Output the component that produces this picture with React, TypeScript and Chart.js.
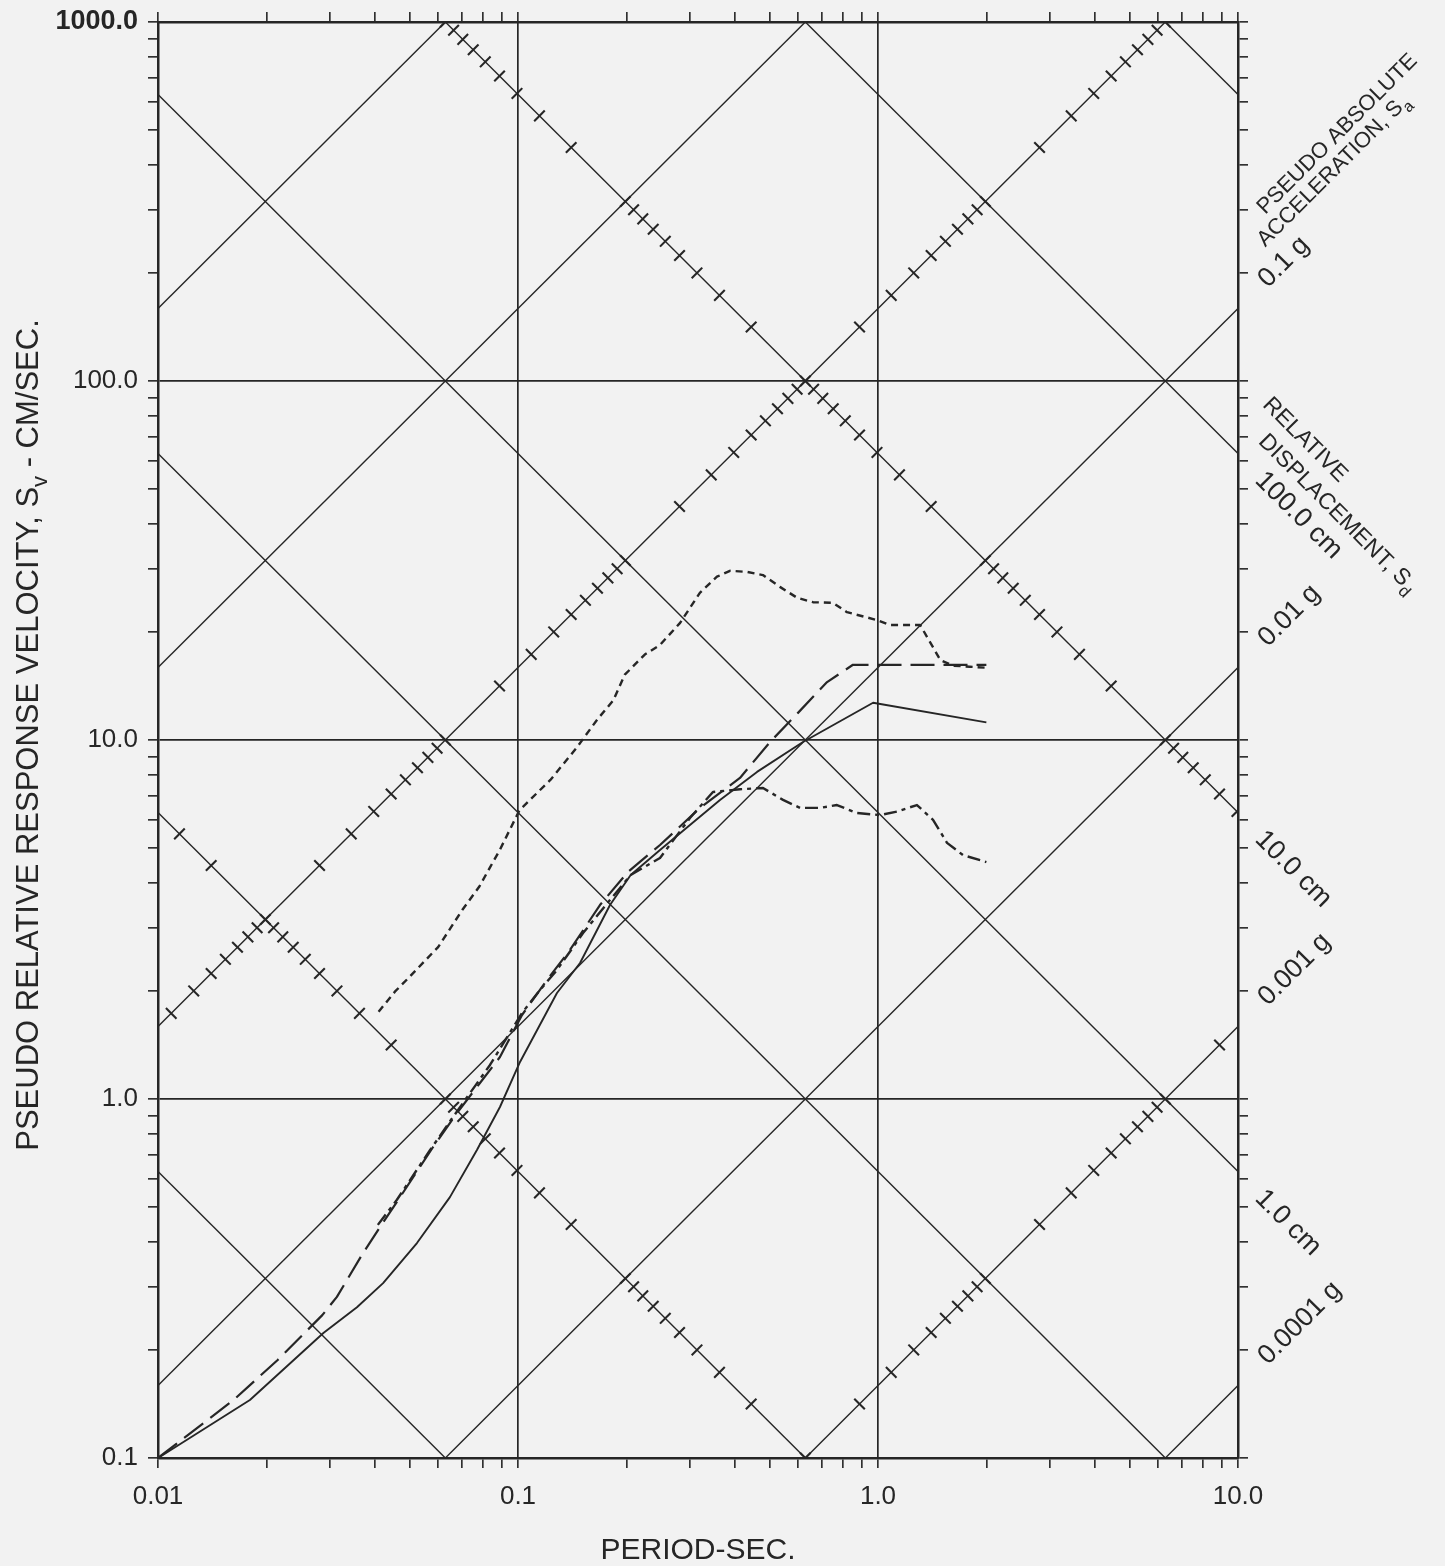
import { useEffect, useRef } from "react";
import { Chart, registerables } from "chart.js";

Chart.register(...registerables);

// Canvas and plot frame
const W = 1445;
const H = 1566;
const PAPER = "#f2f2f2";
const INK = "#262626";
const FONT = '"Liberation Sans", "DejaVu Sans", sans-serif';
const TWO_PI = 2 * Math.PI;

// Axis ranges: period (s) and pseudo relative velocity (cm/s)
const periodMin = 0.01;
const periodMax = 10;
const velocityMin = 0.1;
const velocityMax = 1000;

const periodTickLabels = ["0.01", "0.1", "1.0", "10.0"];
const velocityTickLabels = ["0.1", "1.0", "10.0", "100.0", "1000.0"];

// Tripartite guide lines
const displacementLinesCm = [0.001, 0.01, 0.1, 1, 10, 100, 1000];
const accelerationLinesCmS2 = [0.1, 1, 10, 100, 1000, 10000, 100000];
const graduatedDisplacementLinesCm = [0.01, 10];
const graduatedAccelerationLinesCmS2 = [1, 1000];

// Labels placed beside the guide line ends on the right
const accelerationLineLabels = [
  { sa: 100, text: "0.1 g" },
  { sa: 10, text: "0.01 g" },
  { sa: 1, text: "0.001 g" },
  { sa: 0.1, text: "0.0001 g" },
];
const displacementLineLabels = [
  { sd: 100, text: "100.0 cm" },
  { sd: 10, text: "10.0 cm" },
  { sd: 1, text: "1.0 cm" },
];

// Spectrum curves (period s, velocity cm/s)
const periodUpper = [0.041, 0.0455, 0.050, 0.060, 0.070, 0.078, 0.089, 0.101, 0.123, 0.146, 0.166, 0.184, 0.198, 0.225, 0.248, 0.282, 0.320, 0.357, 0.388, 0.433, 0.479, 0.534, 0.596, 0.66, 0.75, 0.82, 0.99, 1.08, 1.31, 1.49, 1.62, 1.80, 2.0];
const velocityUpper = [1.75, 1.99, 2.19, 2.65, 3.36, 3.9, 4.94, 6.38, 7.74, 9.56, 11.4, 12.9, 15.2, 17.3, 18.4, 21.2, 25.7, 28.5, 29.6, 29.4, 28.8, 26.7, 24.9, 24.2, 24.1, 22.7, 21.6, 20.9, 20.9, 16.7, 16.1, 16.0, 15.9];

const periodLongDash = [0.01, 0.0162, 0.0215, 0.0286, 0.0314, 0.0371, 0.0414, 0.0461, 0.0581, 0.0677, 0.0784, 0.0891, 0.1026, 0.1204, 0.1394, 0.1689, 0.2021, 0.248, 0.3203, 0.4136, 0.5012, 0.5995, 0.722, 0.852, 2.0];
const velocityLongDash = [0.1, 0.145, 0.1875, 0.250, 0.281, 0.372, 0.440, 0.517, 0.735, 0.914, 1.108, 1.309, 1.714, 2.145, 2.60, 3.47, 4.29, 5.1, 6.47, 7.84, 9.87, 11.9, 14.5, 16.2, 16.2];

const periodSolid = [0.01, 0.018, 0.0288, 0.0357, 0.0422, 0.0524, 0.0647, 0.0769, 0.0891, 0.1013, 0.1283, 0.1487, 0.1801, 0.2056, 0.248, 0.3004, 0.364, 0.4613, 0.619, 0.969, 2.0];
const velocitySolid = [0.1, 0.145, 0.223, 0.263, 0.307, 0.397, 0.533, 0.721, 0.950, 1.268, 1.974, 2.392, 3.47, 4.207, 4.94, 5.80, 6.81, 8.15, 9.87, 12.7, 11.2];

const periodLower = [0.0408, 0.0461, 0.057, 0.066, 0.0836, 0.1026, 0.1151, 0.1283, 0.1516, 0.1801, 0.2056, 0.248, 0.3004, 0.348, 0.4136, 0.4793, 0.5447, 0.6073, 0.69, 0.769, 0.874, 1.013, 1.129, 1.283, 1.422, 1.555, 1.722, 2.0];
const velocityLower = [0.446, 0.524, 0.721, 0.891, 1.244, 1.736, 2.012, 2.287, 2.90, 3.584, 4.207, 4.693, 6.064, 7.164, 7.29, 7.35, 6.81, 6.47, 6.47, 6.59, 6.26, 6.18, 6.32, 6.59, 5.99, 5.17, 4.78, 4.57];

type Run = { text: string; sub?: boolean };

const velocityTitle: Run[] = [
  { text: "PSEUDO RELATIVE RESPONSE VELOCITY, S" },
  { text: "v", sub: true },
  { text: " - CM/SEC." },
];
const accelerationTitle: Run[][] = [
  [{ text: "PSEUDO ABSOLUTE" }],
  [{ text: "ACCELERATION, S" }, { text: "a", sub: true }],
];
const displacementTitle: Run[][] = [
  [{ text: "RELATIVE" }],
  [{ text: "DISPLACEMENT, S" }, { text: "d", sub: true }],
];

const zip = (xs: number[], ys: number[]) => xs.map((x, i) => ({ x, y: ys[i] }));

// Log ticks 1..9 per decade
function logTicks(min: number, max: number) {
  const out: number[] = [];
  const e0 = Math.round(Math.log10(min));
  const e1 = Math.round(Math.log10(max));
  for (let e = e0; e < e1; e++) {
    for (let n = 1; n < 10; n++) out.push(Number((n * Math.pow(10, e)).toPrecision(6)));
  }
  out.push(max);
  return out;
}

function decadeIndex(v: number, min: number) {
  const l = Math.log10(v / min);
  const r = Math.round(l);
  return Math.abs(l - r) < 1e-6 ? r : -1;
}

// Graduation marks along a constant-displacement or constant-acceleration line
function graduations(fixed: number, kind: "sd" | "sa") {
  const pts: { x: number; y: number }[] = [];
  for (let e = -3; e <= 7; e++) {
    for (let n = 1; n <= 9; n++) {
      const q = n * Math.pow(10, e);
      const sd = kind === "sd" ? fixed : q;
      const sa = kind === "sd" ? q : fixed;
      const T = TWO_PI * Math.sqrt(sd / sa);
      const v = Math.sqrt(sd * sa);
      if (T >= periodMin * 0.999 && T <= periodMax * 1.001 && v >= velocityMin * 0.999 && v <= velocityMax * 1.001) {
        pts.push({ x: T, y: v });
      }
    }
  }
  return pts;
}

function runsWidth(ctx: CanvasRenderingContext2D, runs: Run[], size: number) {
  let w = 0;
  for (const r of runs) {
    ctx.font = `${r.sub ? Math.round(size * 0.72) : size}px ${FONT}`;
    w += ctx.measureText(r.text).width;
  }
  return w;
}

function drawRuns(ctx: CanvasRenderingContext2D, runs: Run[], x: number, y: number, size: number) {
  let cx = x;
  for (const r of runs) {
    ctx.font = `${r.sub ? Math.round(size * 0.72) : size}px ${FONT}`;
    ctx.fillText(r.text, cx, y + (r.sub ? size * 0.3 : 0));
    cx += ctx.measureText(r.text).width;
  }
}

const paperPlugin = {
  id: "paper",
  beforeDraw(chart: any) {
    const { ctx } = chart;
    ctx.save();
    ctx.fillStyle = PAPER;
    ctx.fillRect(0, 0, chart.width, chart.height);
    ctx.restore();
  },
};

const annotationPlugin = {
  id: "tripartiteText",
  afterDraw(chart: any) {
    const { ctx, chartArea } = chart;
    const yScale = chart.scales.y;
    ctx.save();
    ctx.fillStyle = INK;
    ctx.textBaseline = "alphabetic";
    ctx.textAlign = "left";

    // vertical axis title
    const titleSize = 31;
    ctx.save();
    ctx.translate(38, (chartArea.top + chartArea.bottom) / 2 - 5);
    ctx.rotate(-Math.PI / 2);
    const tw = runsWidth(ctx, velocityTitle, titleSize);
    drawRuns(ctx, velocityTitle, -tw / 2, 0, titleSize);
    ctx.restore();

    const valueSize = 27;
    const headSize = 22;
    // acceleration labels, rising to the right
    accelerationLineLabels.forEach((lab, i) => {
      const y = yScale.getPixelForValue((lab.sa * periodMax) / TWO_PI);
      ctx.save();
      ctx.translate(chartArea.right + 30, y - 20);
      ctx.rotate(-Math.PI / 4);
      drawRuns(ctx, [{ text: lab.text }], 0, 0, valueSize);
      if (i === 0) {
        drawRuns(ctx, accelerationTitle[1], 27, -31, headSize);
        drawRuns(ctx, accelerationTitle[0], 50, -54, headSize);
      }
      ctx.restore();
    });

    // displacement labels, falling to the right
    displacementLineLabels.forEach((lab, i) => {
      const y = yScale.getPixelForValue((TWO_PI * lab.sd) / periodMax);
      ctx.save();
      ctx.translate(chartArea.right + 16, y + 28);
      ctx.rotate(Math.PI / 4);
      drawRuns(ctx, [{ text: lab.text }], 0, 0, valueSize);
      if (i === 0) {
        drawRuns(ctx, displacementTitle[1], -25, -30, headSize + 1);
        drawRuns(ctx, displacementTitle[0], -48, -59, headSize + 1);
      }
      ctx.restore();
    });
    ctx.restore();
  },
};

function buildDatasets() {
  const spectra: any[] = [
    { data: zip(periodUpper, velocityUpper), borderDash: [7, 5], borderWidth: 2.4 },
    { data: zip(periodLongDash, velocityLongDash), borderDash: [24, 9], borderWidth: 2.2 },
    { data: zip(periodSolid, velocitySolid), borderDash: [], borderWidth: 1.9 },
    { data: zip(periodLower, velocityLower), borderDash: [13, 5, 4, 5], borderWidth: 2.4 },
  ].map((d) => ({
    ...d,
    borderColor: INK,
    pointRadius: 0,
    tension: 0,
    fill: false,
    borderJoinStyle: "round",
  }));

  const guide = (data: { x: number; y: number }[]) => ({
    data,
    borderColor: INK,
    borderWidth: 1.4,
    pointRadius: 0,
    fill: false,
  });

  const displacementGuides = displacementLinesCm.map((sd) =>
    guide([
      { x: periodMin, y: (TWO_PI * sd) / periodMin },
      { x: periodMax, y: (TWO_PI * sd) / periodMax },
    ])
  );
  const accelerationGuides = accelerationLinesCmS2.map((sa) =>
    guide([
      { x: periodMin, y: (sa * periodMin) / TWO_PI },
      { x: periodMax, y: (sa * periodMax) / TWO_PI },
    ])
  );

  const marks = (data: { x: number; y: number }[], rotation: number) => ({
    data,
    showLine: false,
    pointStyle: "line",
    pointRadius: 7.5,
    pointRotation: rotation,
    pointBorderWidth: 2.1,
    pointBorderColor: INK,
    pointBackgroundColor: INK,
  });

  const displacementMarks = graduatedDisplacementLinesCm.map((sd) => marks(graduations(sd, "sd"), -45));
  const accelerationMarks = graduatedAccelerationLinesCmS2.map((sa) => marks(graduations(sa, "sa"), 45));

  return [...spectra, ...displacementMarks, ...accelerationMarks, ...displacementGuides, ...accelerationGuides];
}

// Fix each axis box to a set size and drop the label overhang padding
const fixBox = (size: { width?: number; height?: number }) => (s: any) => {
  if (size.width !== undefined) s.width = size.width;
  if (size.height !== undefined) s.height = size.height;
  s.paddingTop = 0;
  s.paddingBottom = 0;
  s.paddingLeft = 0;
  s.paddingRight = 0;
};

function logAxis(min: number, max: number, labels: string[] | null, padding: number, extra: any) {
  return {
    type: "logarithmic",
    min,
    max,
    afterBuildTicks: (scale: any) => {
      scale.ticks = logTicks(min, max).map((value) => ({ value }));
    },
    grid: {
      color: (ctx: any) => (ctx.tick && decadeIndex(ctx.tick.value, min) >= 0 ? INK : "rgba(0,0,0,0)"),
      lineWidth: 1.7,
      tickColor: INK,
      tickWidth: 1.6,
      tickLength: 10,
      drawTicks: true,
      drawOnChartArea: labels !== null,
    },
    border: { display: true, color: INK, width: 2.5 },
    ticks: labels
      ? {
          display: true,
          autoSkip: false,
          maxRotation: 0,
          minRotation: 0,
          padding,
          color: INK,
          font: (ctx: any) => {
            const top = ctx.tick && decadeIndex(ctx.tick.value, min) === labels.length - 1 && labels.length === 5;
            return { family: FONT, size: top ? 27 : 26, weight: top ? "bold" : "normal" };
          },
          callback: (value: any) => {
            const i = decadeIndex(Number(value), min);
            return i >= 0 ? labels[i] : "";
          },
        }
      : { display: false },
    ...extra,
  };
}

export default function App() {
  const ref = useRef<HTMLCanvasElement>(null);

  useEffect(() => {
    const canvas = ref.current;
    if (!canvas) return;
    const chart = new Chart(canvas, {
      type: "line",
      data: { datasets: buildDatasets() },
      options: {
        animation: false,
        responsive: false,
        devicePixelRatio: 1,
        events: [],
        layout: { padding: 0 },
        plugins: { legend: { display: false }, tooltip: { enabled: false } },
        scales: {
          x: logAxis(periodMin, periodMax, periodTickLabels, 13, {
            position: "bottom",
            afterFit: fixBox({ height: H - 1458 }),
            title: {
              display: true,
              text: "PERIOD-SEC.",
              color: INK,
              font: { family: FONT, size: 30, lineHeight: 1 },
              padding: { top: 0, bottom: 0 },
            },
          }),
          x2: logAxis(periodMin, periodMax, null, 0, {
            position: "top",
            afterFit: fixBox({ height: 22 }),
          }),
          y: logAxis(velocityMin, velocityMax, velocityTickLabels, 10, {
            position: "left",
            afterFit: fixBox({ width: 158 }),
          }),
          y2: logAxis(velocityMin, velocityMax, null, 0, {
            position: "right",
            afterFit: fixBox({ width: W - 1238 }),
          }),
        },
      } as any,
      plugins: [paperPlugin, annotationPlugin],
    });
    return () => chart.destroy();
  }, []);

  return (
    <div style={{ position: "absolute", left: 0, top: 0, width: W, height: H, background: PAPER }}>
      <canvas ref={ref} width={W} height={H} style={{ display: "block", width: W, height: H }} />
    </div>
  );
}
